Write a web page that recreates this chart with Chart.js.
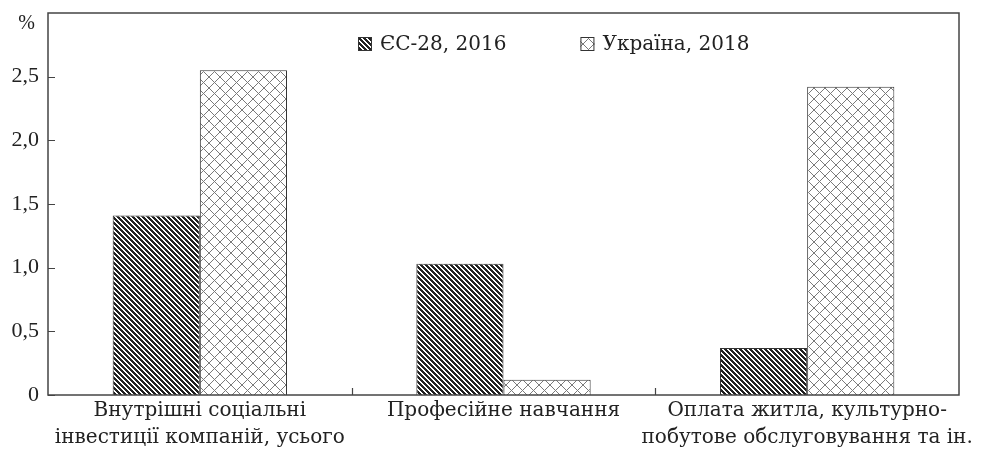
<!DOCTYPE html>
<html>
<head>
<meta charset="utf-8">
<script src="https://cdn.jsdelivr.net/npm/chart.js@4"></script>
<style>
html,body{margin:0;padding:0;background:#fff;}
#wrap{width:984px;height:461px;}
</style>
</head>
<body>
<div id="wrap"><canvas id="c" width="984" height="461"></canvas></div>
<script>
const categories = [
  ['Внутрішні соціальні', 'інвестиції компаній, усього'],
  ['Професійне навчання'],
  ['Оплата житла, культурно-', 'побутове обслуговування та ін.']
];
const seriesNames = ['ЄС-28, 2016', 'Україна, 2018'];
const euValues = [1.41, 1.03, 0.37];
const uaValues = [2.55, 0.12, 2.42];
const yTicks = [0, 0.5, 1.0, 1.5, 2.0, 2.5];
const yMax = 3.0;
const yUnit = '%';

function makePattern(size, test, ink, paper) {
  const cv = document.createElement('canvas');
  cv.width = size; cv.height = size;
  const g = cv.getContext('2d');
  g.fillStyle = paper; g.fillRect(0, 0, size, size);
  g.fillStyle = ink;
  for (let y = 0; y < size; y++) for (let x = 0; x < size; x++) {
    if (test(x, y, size)) g.fillRect(x, y, 1, 1);
  }
  return g.createPattern(cv, 'repeat');
}
const ctx = document.getElementById('c').getContext('2d');
const hatch = makePattern(5, (x, y, s) => (((x - y) % s) + s) % s < 3, '#222222', '#ffffff');
const cross = makePattern(11, (x, y, s) => x === y || x + y === s - 1, '#7a7a7a', '#ffffff');

const SERIF_WIDE = "'DejaVu Serif', 'Liberation Serif', serif";
const SERIF = "'Liberation Serif', 'DejaVu Serif', serif";

const frame = {
  id: 'frame',
  afterDraw(chart) {
    const a = chart.chartArea, g = chart.ctx;
    const xs = chart.scales.x, ys = chart.scales.y;
    g.save();
    g.strokeStyle = '#444';
    g.lineWidth = 1.5;
    g.strokeRect(a.left, a.top, a.right - a.left, a.bottom - a.top);
    g.lineWidth = 1.2;
    g.beginPath();
    yTicks.forEach(v => {
      const p = Math.round(ys.getPixelForValue(v)) + 0.5;
      g.moveTo(a.left, p); g.lineTo(a.left + 7, p);
    });
    for (let i = 1; i < categories.length; i++) {
      const p = Math.round((xs.getPixelForValue(i - 1) + xs.getPixelForValue(i)) / 2) + 0.5;
      g.moveTo(p, a.bottom); g.lineTo(p, a.bottom - 7);
    }
    g.stroke();
    // unit label at the top of the value axis
    g.fillStyle = '#222';
    g.font = "20px " + SERIF;
    g.textAlign = 'right';
    g.textBaseline = 'middle';
    g.fillText(yUnit, a.left - 13, a.top + 11);
    // legend inside the plot area
    g.font = "20px " + SERIF_WIDE;
    g.textAlign = 'left';
    const cy = a.top + 31;
    let x = a.left + 310;
    chart.data.datasets.forEach((ds, i) => {
      g.fillStyle = ds.backgroundColor;
      g.fillRect(x, cy - 7, 14, 14);
      g.lineWidth = 1;
      g.strokeStyle = '#333';
      g.strokeRect(x + 0.5, cy - 6.5, 13, 13);
      g.fillStyle = '#222';
      g.fillText(ds.label, x + 22, cy + 1);
      x += 22 + g.measureText(ds.label).width + 74;
    });
    g.restore();
  }
};

new Chart(ctx, {
  type: 'bar',
  data: {
    labels: categories,
    datasets: [
      { label: seriesNames[0], data: euValues, backgroundColor: hatch, borderColor: '#333', borderWidth: 1 },
      { label: seriesNames[1], data: uaValues, backgroundColor: cross, borderColor: '#333', borderWidth: 1 }
    ]
  },
  options: {
    responsive: false,
    animation: false,
    devicePixelRatio: 1,
    layout: { padding: { left: 0, right: 25, top: 13, bottom: 0 } },
    datasets: { bar: { categoryPercentage: 0.574, barPercentage: 1.0 } },
    plugins: {
      tooltip: { enabled: false },
      legend: { display: false }
    },
    scales: {
      x: {
        grid: { display: false, drawTicks: false },
        border: { display: false },
        ticks: { font: { family: SERIF_WIDE, size: 20, lineHeight: 1.35 }, color: '#222', padding: 2, maxRotation: 0, autoSkip: false },
        afterFit(s) { s.height = 66; s.paddingLeft = 0; s.paddingRight = 0; }
      },
      y: {
        min: 0, max: yMax,
        afterBuildTicks(s) { s.ticks = yTicks.map(v => ({ value: v })); },
        grid: { display: false, drawTicks: false },
        border: { display: false },
        ticks: {
          font: { family: SERIF, size: 22 },
          color: '#222',
          padding: 9,
          callback(v) { return v === 0 ? '0' : v.toFixed(1).replace('.', ','); }
        },
        afterFit(s) { s.width = 48; s.paddingTop = 0; s.paddingBottom = 0; }
      }
    }
  },
  plugins: [frame]
});
</script>
</body>
</html>
